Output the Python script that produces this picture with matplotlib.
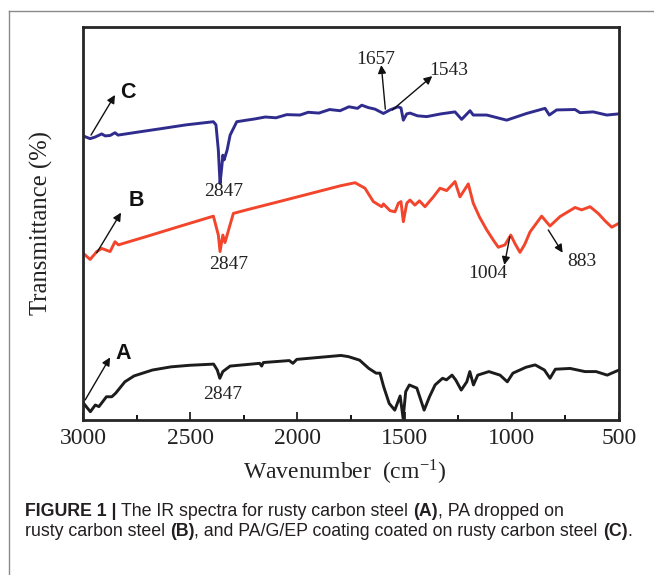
import matplotlib
matplotlib.use('Agg')
import matplotlib.pyplot as plt
from matplotlib.lines import Line2D
from matplotlib.ticker import MultipleLocator

# spectra (wavenumber, transmittance in arbitrary units)
A_wn = [3000, 2966, 2943, 2926, 2891, 2866, 2848, 2805, 2762, 2676, 2590, 2503, 2391, 2374, 2362, 2348,
        2314, 2176, 2167, 2159, 2038, 2021, 2003, 1900, 1797, 1762, 1710, 1667, 1633, 1615, 1598, 1572,
        1546, 1521, 1507, 1495, 1478, 1443, 1409, 1384, 1358, 1323, 1305, 1279, 1262, 1236, 1210, 1196,
        1179, 1159, 1107, 1055, 1021, 995, 934, 891, 848, 822, 797, 728, 659, 607, 555, 500]
A_t = [4.4, 2.1, 3.8, 3.4, 5.9, 5.9, 6.8, 9.7, 11.2, 12.7, 13.5, 13.9, 14.2, 12.7, 10.6, 12.3,
       13.7, 14.4, 13.7, 14.6, 15.1, 14.4, 15.4, 15.9, 16.4, 16.1, 15.2, 13.1, 11.9, 11.9, 8.5, 4.2,
       2.5, 6.1, 0.4, 7.2, 8.9, 8.1, 2.5, 5.9, 8.9, 10.6, 10.2, 11.4, 10.2, 7.6, 9.7, 12.3,
       8.9, 11.4, 12.3, 11.4, 9.7, 11.9, 13.4, 14.0, 12.7, 10.6, 12.9, 13.1, 12.3, 12.3, 11.4, 12.7]

B_wn = [3000, 2967, 2936, 2913, 2874, 2851, 2835, 2700, 2550, 2392, 2369, 2361, 2348, 2338, 2299, 2237,
        2100, 1950, 1801, 1731, 1685, 1646, 1607, 1599, 1568, 1545, 1529, 1517, 1506, 1490, 1475, 1452,
        1431, 1405, 1366, 1335, 1304, 1265, 1242, 1203, 1180, 1150, 1117, 1085, 1063, 1032, 1005, 985,
        962, 940, 915, 861, 822, 775, 705, 674, 635, 597, 565, 534, 500]
B_t = [42.4, 40.8, 42.8, 43.6, 42.8, 45.3, 44.5, 46.7, 49.2, 51.8, 47.0, 42.8, 47.0, 45.1, 52.5, 53.4,
       55.3, 57.4, 59.5, 60.3, 58.9, 55.5, 54.2, 54.9, 53.2, 52.9, 55.1, 55.5, 50.4, 55.1, 55.9, 54.6,
       55.7, 54.2, 56.7, 58.9, 58.3, 60.6, 56.7, 60.0, 55.1, 51.5, 48.3, 45.6, 43.9, 44.5, 47.0, 44.8,
       42.6, 44.6, 47.8, 51.8, 49.3, 51.7, 54.0, 53.4, 54.2, 52.5, 50.6, 49.0, 50.0]

C_wn = [3000, 2967, 2944, 2913, 2897, 2874, 2851, 2837, 2740, 2641, 2520, 2392, 2380, 2369, 2361, 2352,
        2348, 2342, 2328, 2314, 2283, 2237, 2200, 2150, 2100, 2050, 1988, 1950, 1900, 1850, 1801, 1760,
        1720, 1700, 1670, 1638, 1599, 1568, 1531, 1517, 1506, 1490, 1475, 1440, 1397, 1330, 1265, 1234,
        1195, 1180, 1117, 1024, 931, 845, 825, 791, 705, 682, 620, 557, 500]
C_t = [72.2, 71.5, 71.9, 72.7, 72.2, 72.3, 73.0, 72.4, 73.2, 74.0, 75.0, 75.8, 75.0, 68.6, 60.1, 64.8,
       67.3, 66.1, 68.6, 72.4, 75.8, 76.2, 76.5, 77.0, 76.8, 77.6, 77.5, 78.2, 78.0, 78.9, 78.6, 79.6,
       79.2, 80.0, 79.4, 79.0, 77.9, 78.8, 79.6, 79.3, 76.2, 77.8, 78.0, 77.3, 77.1, 77.8, 78.3, 76.4,
       78.6, 77.5, 77.5, 76.2, 77.9, 79.2, 77.5, 78.8, 78.9, 78.1, 78.3, 77.5, 77.8]

xticks = [3000, 2500, 2000, 1500, 1000, 500]

# peak labels: text, text position, arrow tail (on curve), arrow head
peak_labels = [('2847', (2346, 58.0)), ('2847', (2322, 39.6)), ('2847', (2349, 6.4))]
peak_arrows = [('1657', (1634, 91.5), (1590, 79.0), (1609, 90.2)),
               ('1543', (1294, 88.9), (1557, 78.8), (1371, 87.4)),
               ('1004', (1110, 37.3), (1009, 46.6), (1035, 39.4)),
               ('883', (674, 40.2), (830, 48.3), (763, 42.5))]
curve_tags = [('A', (2813, 16.8), (2990, 5.1), (2874, 15.9)),
              ('B', (2750, 55.9), (2936, 42.5), (2823, 52.7)),
              ('C', (2790, 83.3), (2963, 72.4), (2851, 82.6))]

serif = 'Liberation Serif'
plt.rcParams['mathtext.fontset'] = 'stix'

fig = plt.figure(figsize=(6.54, 5.75), dpi=100)
ax = fig.add_axes([0.127, 0.2696, 0.8195, 0.6843])

ax.plot(A_wn, A_t, color='#1c1c1c', lw=2.1, solid_joinstyle='round')
ax.plot(B_wn, B_t, color='#f2452c', lw=2.1, solid_joinstyle='round')
ax.plot(C_wn, C_t, color='#302c8e', lw=2.1, solid_joinstyle='round')

ax.set_xlim(3000, 500)
ax.set_ylim(0, 100)
ax.set_xticks(xticks)
ax.set_xticklabels([str(t) for t in xticks], family=serif, fontsize=17)
ax.xaxis.set_minor_locator(MultipleLocator(250))
ax.tick_params(axis='x', which='major', direction='in', length=6, width=1.3, pad=6, colors='#222222')
ax.tick_params(axis='x', which='minor', direction='in', length=3.5, width=1.3)
ax.tick_params(axis='x', labelcolor='#222222')
ax.set_yticks([])
for s in ax.spines.values():
    s.set_linewidth(2)
    s.set_color('#262626')

ax.set_ylabel('Transmittance (%)', family=serif, fontsize=17.8, color='#222222')
ax.yaxis.set_label_coords(-0.057, 0.5)
ax.set_xlabel(r'Wavenumber  (cm$^{\mathdefault{-1}}$)', family=serif, fontsize=17, color='#222222')
ax.xaxis.set_label_coords(0.489, -0.097)

for txt, pos in peak_labels:
    ax.text(pos[0], pos[1], txt, family=serif, fontsize=14, ha='center', va='center', color='#222222')
for txt, pos, tail, head in peak_arrows:
    ax.text(pos[0], pos[1], txt, family=serif, fontsize=14, ha='center', va='center', color='#222222')
    ax.annotate('', xy=head, xytext=tail,
                arrowprops=dict(arrowstyle='-|>', color='#111111', lw=1.0, mutation_scale=12,
                                shrinkA=0, shrinkB=0))
for txt, pos, tail, head in curve_tags:
    ax.text(pos[0], pos[1], txt, family='Liberation Sans', fontweight='bold', fontsize=15.5,
            ha='center', va='center', color='#111111')
    ax.annotate('', xy=head, xytext=tail,
                arrowprops=dict(arrowstyle='-|>', color='#111111', lw=1.0, mutation_scale=12,
                                shrinkA=0, shrinkB=0))

# page frame of the figure panel
fig.add_artist(Line2D([8.5 / 654, 1.0], [1 - 10.7 / 575, 1 - 10.7 / 575], transform=fig.transFigure,
                      color='#8a8a8a', lw=1.0))
fig.add_artist(Line2D([8.5 / 654, 8.5 / 654], [0.0, 1 - 10.7 / 575], transform=fig.transFigure,
                      color='#8a8a8a', lw=1.0))

# caption with mixed bold / regular runs
cap_font = ['Liberation Sans Narrow', 'Liberation Sans']
cap_lines = [
    [('FIGURE 1 | ', True), ('The IR spectra for rusty carbon steel ', False), ('(A)', True),
     (', PA dropped on', False)],
    [('rusty carbon steel ', False), ('(B)', True),
     (', and PA/G/EP coating coated on rusty carbon steel ', False), ('(C)', True), ('.', False)],
]
cap_y = [1 - 511 / 575, 1 - 532 / 575]
renderer = fig.canvas.get_renderer()
for segs, y in zip(cap_lines, cap_y):
    x = 25 / 654
    for txt, bold in segs:
        t = fig.text(x, y, txt, family=cap_font, fontsize=12.8, fontweight='bold' if bold else 'normal',
                     va='center', ha='left', color='#231f20')
        bb = t.get_window_extent(renderer)
        x += bb.width / fig.bbox.width

fig.savefig('out.png', dpi=100)
plt.close()
